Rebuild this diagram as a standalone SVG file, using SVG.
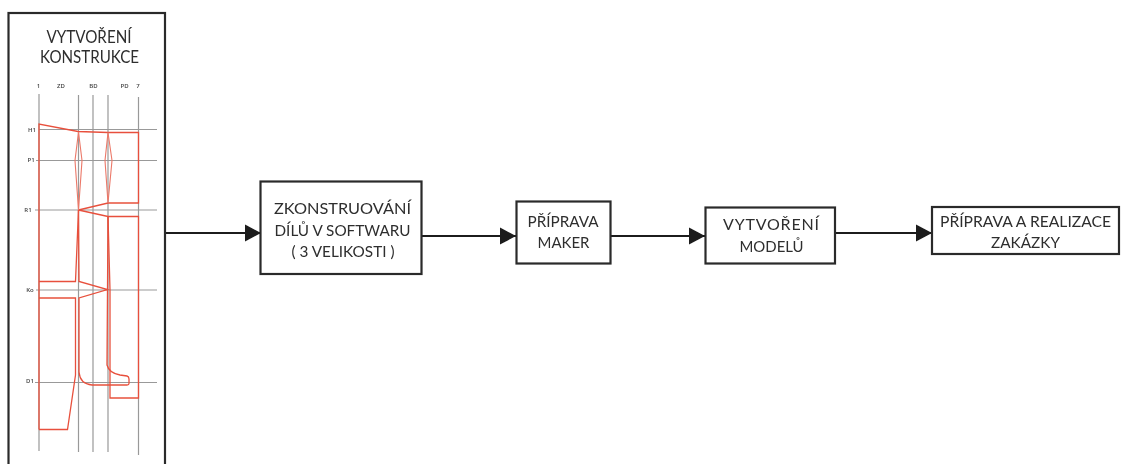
<svg xmlns="http://www.w3.org/2000/svg" width="1121" height="464" viewBox="0 0 1121 464">
<defs>
<marker id="arrow" markerUnits="userSpaceOnUse" markerWidth="16" markerHeight="18" refX="16" refY="9" orient="auto"><path d="M0,0.5 L16,9 L0,17.5 Z" fill="#1a1a1a"/></marker>
<filter id="soft" x="0" y="0" width="100%" height="100%" filterUnits="userSpaceOnUse"><feGaussianBlur stdDeviation="0.45"/></filter>
</defs>
<style>
.box{fill:#fff;stroke:#2b2b2b;stroke-width:2.2}
.conn{fill:none;stroke:#1a1a1a;stroke-width:2;marker-end:url(#arrow)}
.t{font-family:Lato,"Open Sans",sans-serif;font-size:16px;fill:#2e2e2e;text-anchor:middle}
.h{font-size:16.500px}
.s{font-family:"Open Sans","Noto Sans",sans-serif;font-size:6px;font-weight:600;fill:#444;text-anchor:middle}
.g{fill:none;stroke:#999;stroke-width:1.2}
.r{fill:none;stroke:#e8503c;stroke-width:1.3}
.rl{fill:none;stroke:#ec7868;stroke-width:1.1}
</style>
<rect width="1121" height="464" fill="#fff"/>
<g filter="url(#soft)">
<g id="connectors">
<path class="conn" d="M165,233 H261"/>
<path class="conn" d="M422,236 H516"/>
<path class="conn" d="M610,236 H705"/>
<path class="conn" d="M836,233 H932"/>
</g>
<g id="node-konstrukce">
<rect class="box" x="8.500" y="13" width="156.500" height="470"/>
<text class="t h" x="89" y="43" textLength="85" lengthAdjust="spacingAndGlyphs">VYTVOŘENÍ</text>
<text class="t h" x="89.500" y="63" textLength="99" lengthAdjust="spacingAndGlyphs">KONSTRUKCE</text>
<g id="pattern-grid">
<path class="g" d="M39,94 V451 M78.500,95 V452 M93,95 V452 M108,95 V452 M138.500,97 V455"/>
<path class="g" d="M39,129.500 H157 M36,160.500 H157 M35,210 H157 M36,290 H157 M35,382.500 H157"/>
</g>
<g id="pattern-labels">
<text class="s" x="38.500" y="88">1</text>
<text class="s" x="61" y="88">ZD</text>
<text class="s" x="93.500" y="88">BD</text>
<text class="s" x="124.500" y="88">PD</text>
<text class="s" x="138" y="88">7</text>
<text class="s" x="32" y="131.500">H1</text>
<text class="s" x="31" y="161.500">P1</text>
<text class="s" x="28" y="212">R1</text>
<text class="s" x="30" y="292">Ko</text>
<text class="s" x="30" y="383">D1</text>
</g>
<g id="pattern-cut">
<path class="r" d="M39,429.500 V124 L78,131.500 L108,132.500 H138.500 V203 H108 L78.500,210 L108,216.500 H138.500 V398 H110 V290 L108,216.500"/>
<path class="r" d="M39,281.500 H75.500 L78.500,210"/>
<path class="r" d="M39,298 H75.500 V375 L67.500,429.500 H39"/>
<path class="rl" d="M78.500,132 L75,160.500 L78.500,210 L82,160.500 Z"/>
<path class="rl" d="M108,132.500 L105,160.500 L108,203 L112,160.500 Z"/>
<path class="r" d="M108,216.500 L107,365 Q109,373 120,375 L127,376 Q129,376.500 129,379 V383.500 Q129,385 127,385 H92 Q80,384 79,372 V298 L107.500,289.500 L79,281.500 L78.500,210"/>
</g>
</g>
<g id="node-zkonstruovani">
<rect class="box" x="260.500" y="181.500" width="161" height="92.500"/>
<text class="t" x="342.500" y="214" textLength="137" lengthAdjust="spacingAndGlyphs">ZKONSTRUOVÁNÍ</text>
<text class="t" x="342.500" y="236" textLength="136" lengthAdjust="spacingAndGlyphs">DÍLŮ V SOFTWARU</text>
<text class="t" x="343" y="257" textLength="103" lengthAdjust="spacingAndGlyphs">( 3 VELIKOSTI )</text>
</g>
<g id="node-maker">
<rect class="box" x="516.500" y="201.500" width="94" height="62"/>
<text class="t" x="563" y="227" textLength="71" lengthAdjust="spacingAndGlyphs">PŘÍPRAVA</text>
<text class="t" x="563.500" y="248" textLength="52" lengthAdjust="spacingAndGlyphs">MAKER</text>
</g>
<g id="node-modelu">
<rect class="box" x="705.500" y="207.500" width="129.500" height="56"/>
<text class="t" x="771" y="230" textLength="96" lengthAdjust="spacing">VYTVOŘENÍ</text>
<text class="t" x="771.500" y="252" textLength="64" lengthAdjust="spacingAndGlyphs">MODELŮ</text>
</g>
<g id="node-zakazka">
<rect class="box" x="932" y="207" width="187" height="47"/>
<text class="t" x="1025.500" y="227" textLength="171" lengthAdjust="spacingAndGlyphs">PŘÍPRAVA A REALIZACE</text>
<text class="t" x="1025.500" y="248" textLength="69" lengthAdjust="spacingAndGlyphs">ZAKÁZKY</text>
</g>
</g>
</svg>
